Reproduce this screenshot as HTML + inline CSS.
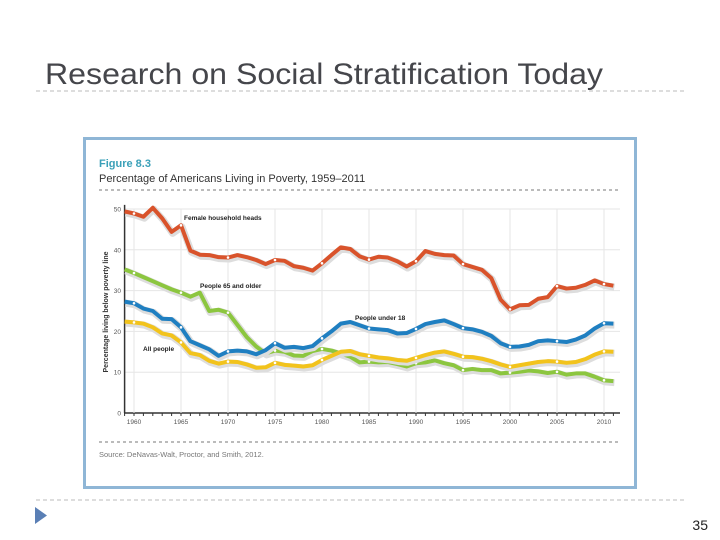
<!DOCTYPE html>
<html><head><meta charset="utf-8"><style>
body{margin:0;width:720px;height:540px;background:#fff;overflow:hidden;font-family:"Liberation Sans",sans-serif}
svg{position:absolute;left:0;top:0}
</style></head><body>
<svg width="720" height="540">
<text x="45" y="84" font-size="30" fill="#45464b" textLength="558" lengthAdjust="spacingAndGlyphs">Research on Social Stratification Today</text>
<line x1="36" y1="91" x2="686" y2="91" stroke="#bbb" stroke-dasharray="4,3"/>
<line x1="36" y1="500" x2="686" y2="500" stroke="#bbb" stroke-dasharray="4,3"/>
<polygon points="35,507 35,524 47,515.5" fill="#5a7fb5"/>
<text x="708" y="530" font-size="14" text-anchor="end" fill="#222">35</text>
<rect x="84.5" y="138.5" width="551" height="349" fill="#fff" stroke="#8fb6d6" stroke-width="3"/>
<text x="99" y="167" font-size="11" font-weight="bold" fill="#3aa0b8">Figure 8.3</text>
<text x="99" y="182" font-size="11" fill="#333">Percentage of Americans Living in Poverty, 1959–2011</text>
<line x1="99" y1="190" x2="621" y2="190" stroke="#777" stroke-dasharray="3,3"/>
<line x1="99" y1="442" x2="621" y2="442" stroke="#777" stroke-dasharray="3,3"/>
<text x="99" y="457" font-size="7.5" fill="#777">Source: DeNavas-Walt, Proctor, and Smith, 2012.</text>
<text transform="translate(108,312) rotate(-90)" font-size="7" font-weight="bold" text-anchor="middle" fill="#333">Percentage living below poverty line</text>
<g id="plot"></g>
</svg>
<script>
const years=[];for(let y=1959;y<=2011;y++)years.push(y);
const yTicks=[0,10,20,30,40,50];
const xTicks=[1960,1965,1970,1975,1980,1985,1990,1995,2000,2005,2010];
const female=[49.4,48.9,48.1,50.3,47.7,44.4,46,39.8,38.8,38.7,38.2,38.1,38.7,38.2,37.5,36.5,37.5,37.3,36,35.6,34.9,36.7,38.7,40.6,40.2,38.4,37.6,38.3,38.1,37.2,35.9,37.2,39.7,39.0,38.7,38.6,36.5,35.8,35.1,33.1,27.8,25.4,26.4,26.5,28,28.4,31.1,30.5,30.7,31.4,32.5,31.6,31.2];
const older=[35.2,34.3,33.3,32.3,31.3,30.3,29.5,28.5,29.5,25.0,25.3,24.6,21.6,18.6,16.3,14.6,15.3,15.0,14.1,14.0,15.2,15.7,15.3,14.6,13.8,12.4,12.6,12.4,12.5,12.0,11.4,12.2,12.4,12.9,12.2,11.7,10.5,10.8,10.5,10.5,9.7,9.9,10.1,10.4,10.2,9.8,10.1,9.4,9.7,9.7,8.9,8.0,7.8];
const under18=[27.3,26.9,25.6,25.0,23.1,23.0,21.0,17.6,16.6,15.6,14.0,15.1,15.3,15.1,14.4,15.4,17.1,16.0,16.2,15.9,16.4,18.3,20.0,21.9,22.3,21.5,20.7,20.5,20.3,19.5,19.6,20.6,21.8,22.3,22.7,21.8,20.8,20.5,19.9,18.9,17.1,16.2,16.3,16.7,17.6,17.8,17.6,17.4,18.0,19.0,20.7,22.0,21.9];
const allPeople=[22.4,22.2,21.9,21.0,19.5,19.0,17.3,14.7,14.2,12.8,12.1,12.6,12.5,11.9,11.1,11.2,12.3,11.8,11.6,11.4,11.7,13.0,14.0,15.0,15.2,14.4,14.0,13.6,13.4,13.0,12.8,13.5,14.2,14.8,15.1,14.5,13.8,13.7,13.3,12.7,11.9,11.3,11.7,12.1,12.5,12.7,12.6,12.3,12.5,13.2,14.3,15.1,15.0];
const NS='http://www.w3.org/2000/svg';
const g=document.getElementById('plot');
const X=y=>124.6+(y-1959)*9.4;
const Y=v=>413-v*4.08;
function mk(t,a){const e=document.createElementNS(NS,t);for(const k in a)e.setAttribute(k,a[k]);g.appendChild(e);return e;}
yTicks.forEach(v=>{
  const l=mk('line',{x1:124,x2:620,y1:Y(v),y2:Y(v),stroke:v?'#e6e6e6':'#333','stroke-width':v?1:1.5});
  
  
  const t=mk('text',{x:121,y:Y(v)+2.5,'font-size':6.5,'text-anchor':'end',fill:'#555'});t.textContent=v;
  
  
});
xTicks.forEach(v=>{
  const l=mk('line',{x1:X(v),x2:X(v),y1:Y(50),y2:Y(0),stroke:'#e6e6e6'});
  
  
  const t=mk('text',{x:X(v),y:424,'font-size':6.5,'text-anchor':'middle',fill:'#555'});t.textContent=v;
  
  
});
years.forEach(y=>{const l=mk('line',{x1:X(y),x2:X(y),y1:413,y2:416,stroke:'#333'});
  
  });
const ax=mk('line',{x1:124.6,x2:124.6,y1:Y(51),y2:413,stroke:'#333','stroke-width':1.5});


const series=[[female,'#d9532b','female-household-heads-line'],[older,'#8cc63f','people-65-older-line'],[under18,'#1f7fc1','people-under-18-line'],[allPeople,'#f2c31c','all-people-line']];
series.forEach(([d,c,n])=>{
  const pts=d.map((v,i)=>X(years[i])+','+Y(v)).join(' ');
  const s=mk('polyline',{points:pts,fill:'none',stroke:'#ddd','stroke-width':7,'stroke-linejoin':'round',transform:'translate(1,1.5)'});
  
  
  const p=mk('polyline',{points:pts,fill:'none',stroke:c,'stroke-width':4,'stroke-linejoin':'round'});
  
  
  d.forEach((v,i)=>{if(years[i]%5===0){const m=mk('circle',{cx:X(years[i]),cy:Y(v),r:1.3,fill:'#fff'});
    
    }});
});
[['Female household heads',184,220,'label-female'],['People 65 and older',200,288,'label-65'],['People under 18',355,320,'label-under-18'],['All people',143,351,'label-all']].forEach(([t,x,y,n])=>{
  const e=mk('text',{x:x,y:y,'font-size':6.5,'font-weight':'bold',fill:'#222'});e.textContent=t;
  
  
});
</script>
</body></html>
